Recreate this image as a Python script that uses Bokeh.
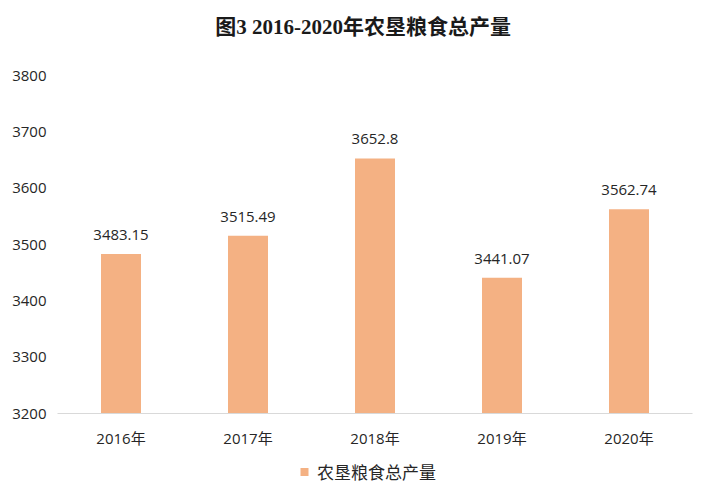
from bokeh.plotting import figure
from bokeh.layouts import column
from bokeh.models import Range1d, FixedTicker, Legend, LegendItem, ColumnDataSource
from bokeh.core.properties import value
from bokeh.embed import file_html
from bokeh.resources import INLINE

years = ["2016年", "2017年", "2018年", "2019年", "2020年"]
output = [3483.15, 3515.49, 3652.8, 3441.07, 3562.74]
labels = ["3483.15", "3515.49", "3652.8", "3441.07", "3562.74"]
y_ticks = [3200, 3300, 3400, 3500, 3600, 3700, 3800]
title = "图3 2016-2020年农垦粮食总产量"
series_name = "农垦粮食总产量"

SANS = "'Open Sans', 'Noto Sans CJK SC'"
SERIF = "'Liberation Serif', 'Noto Sans CJK SC'"
BAR_COLOR = "#F4B183"
TEXT_COLOR = "#262626"
W = 712
HEAD_H = 58


def bare(h, x_range, y_range):
    f = figure(width=W, height=h, x_range=x_range, y_range=y_range,
               output_backend="svg", toolbar_location=None,
               x_axis_location=None, y_axis_location=None,
               min_border=0, min_border_left=0, min_border_right=0,
               min_border_top=0, min_border_bottom=0)
    f.outline_line_color = None
    f.xgrid.grid_line_color = None
    f.ygrid.grid_line_color = None
    return f


src = ColumnDataSource(dict(x=years, top=output, lab=labels))

# header with the title
head = bare(HEAD_H, Range1d(0, W), Range1d(0, HEAD_H))
head.text(x=[177], y=[31.5], text=[title], text_align="left", text_baseline="middle",
          text_font=value(SERIF), text_font_size="21px", text_font_style="bold",
          text_color="#1a1a1a")

# main chart
p = figure(x_range=years, y_range=Range1d(3200, 3800), width=W, height=392,
           output_backend="svg", toolbar_location=None,
           min_border_left=57, min_border_right=20, min_border_top=17, min_border_bottom=34)
p.outline_line_color = None
p.xgrid.grid_line_color = None
p.ygrid.grid_line_color = None

bars = p.vbar(x="x", top="top", bottom=3200, width=0.315, source=src,
              fill_color=BAR_COLOR, line_color=None)
p.text(x="x", y="top", text="lab", source=src, text_align="center",
       text_baseline="bottom", y_offset=-14, text_font=value(SANS),
       text_font_size="15px", text_color=TEXT_COLOR)

p.yaxis.ticker = FixedTicker(ticks=y_ticks)
p.yaxis.axis_line_color = None
p.yaxis.major_tick_line_color = None
p.yaxis.minor_tick_line_color = None
p.yaxis.major_label_standoff = 5
p.yaxis.major_label_text_font = SANS
p.yaxis.major_label_text_font_size = "15px"
p.yaxis.major_label_text_color = TEXT_COLOR

p.xaxis.axis_line_color = "#D9D9D9"
p.xaxis.major_tick_line_color = None
p.xaxis.minor_tick_line_color = None
p.xaxis.major_label_standoff = 8
p.xaxis.major_label_text_font = SANS
p.xaxis.major_label_text_font_size = "15px"
p.xaxis.major_label_text_color = TEXT_COLOR

# legend strip: key for the same series, zero-size marks outside this strip's range
leg = bare(42, years, Range1d(0, 1))
key = leg.vbar(x="x", top="top", bottom="top", width=0, source=src,
               fill_color=BAR_COLOR, line_color=None)
legend = Legend(items=[LegendItem(label=series_name, renderers=[key])],
                location="left", orientation="horizontal",
                glyph_width=10, glyph_height=10, label_standoff=8,
                label_text_font=SANS, label_text_font_size="17px",
                label_text_color=TEXT_COLOR, border_line_color=None,
                background_fill_alpha=0, padding=0, margin=242)
leg.add_layout(legend)

layout = column(head, p, leg, spacing=0)
open("out.html", "w").write(file_html(layout, INLINE))
